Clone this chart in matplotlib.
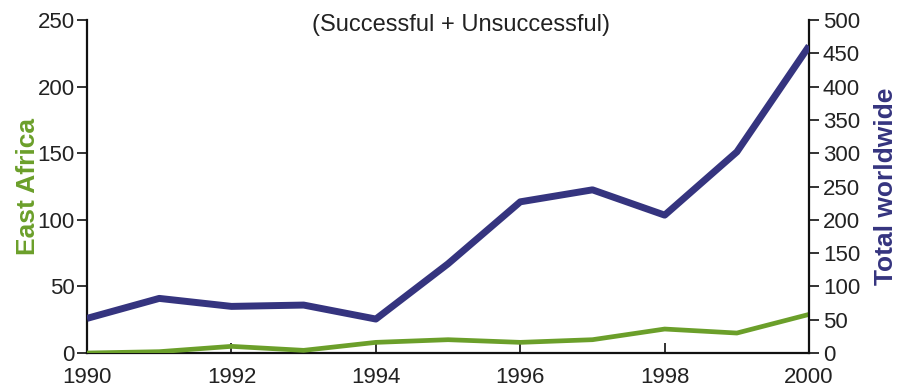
import matplotlib
matplotlib.use("Agg")
import matplotlib.pyplot as plt

years = [1990, 1991, 1992, 1993, 1994, 1995, 1996, 1997, 1998, 1999, 2000]
east_africa = [0, 1, 5, 2, 8, 10, 8, 10, 18, 15, 29]
total_worldwide = [52, 82, 70, 72, 51, 134, 227, 245, 207, 302, 461]
left_ticks = [0, 50, 100, 150, 200, 250]
right_ticks = [0, 50, 100, 150, 200, 250, 300, 350, 400, 450, 500]
x_ticks = [1990, 1992, 1994, 1996, 1998, 2000]

plt.rcParams['font.family'] = ['Liberation Sans', 'DejaVu Sans']

green = '#6b9f2a'
navy = '#35347f'
txt = '#222222'

fig = plt.figure(figsize=(9, 3.89), dpi=100)
ax = fig.add_axes([0.0967, 0.0925, 0.8023, 0.8561])
ax2 = ax.twinx()

ax.plot(years, east_africa, color=green, lw=3.4, solid_capstyle='butt', zorder=3)
ax2.plot(years, total_worldwide, color=navy, lw=5, solid_capstyle='butt', zorder=3)

ax.set_xlim(1990, 2000)
ax.set_ylim(0, 250)
ax2.set_ylim(0, 500)
ax.set_xticks(x_ticks)
ax.set_yticks(left_ticks)
ax2.set_yticks(right_ticks)

for a in (ax, ax2):
    a.spines['top'].set_visible(False)
    for s in a.spines.values():
        s.set_linewidth(1.6)
        s.set_color('#111111')
ax.spines['right'].set_visible(False)
ax2.spines['left'].set_visible(False)
ax2.spines['bottom'].set_visible(False)

ax.tick_params(axis='x', direction='in', length=7, width=1.3, labelsize=16, colors=txt, pad=10)
ax.tick_params(axis='y', direction='out', length=7, width=1.3, labelsize=16, colors=txt, pad=2)
ax2.tick_params(axis='y', direction='out', length=7, width=1.3, labelsize=16, colors=txt, pad=3)

ax.set_ylabel('East Africa', color=green, fontsize=19, fontweight='bold', labelpad=-2)
ax2.set_ylabel('Total worldwide', color=navy, fontsize=19, fontweight='bold', labelpad=10)

fig.text(0.512, 0.937, '(Successful + Unsuccessful)', ha='center', va='center', fontsize=17, color=txt)

fig.savefig('out.png', dpi=100)
